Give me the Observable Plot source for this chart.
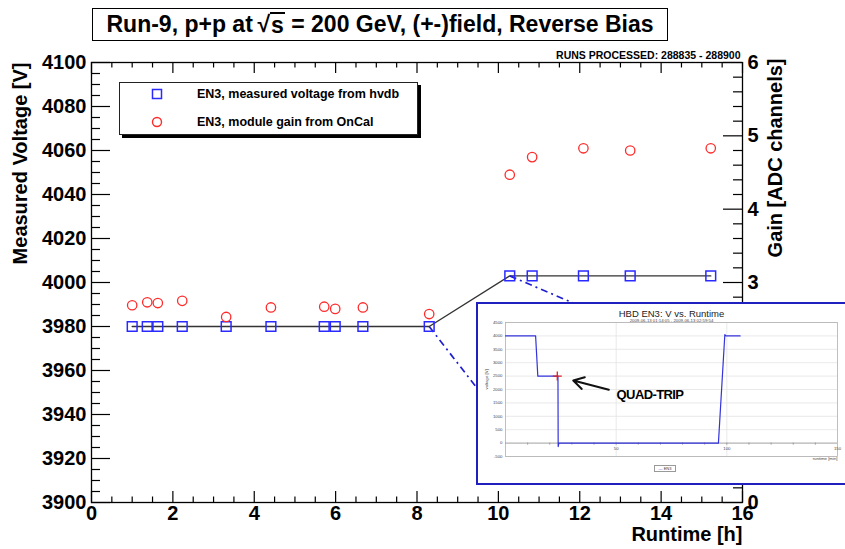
<!DOCTYPE html>
<html><head><meta charset="utf-8">
<script src="https://cdn.jsdelivr.net/npm/d3@7"></script>
<script src="https://cdn.jsdelivr.net/npm/@observablehq/plot@0.6"></script>
<style>
html,body{margin:0;padding:0;background:#fff;}
#wrap{position:relative;width:845px;height:549px;overflow:hidden;font-family:"Liberation Sans",Arial,Helvetica,sans-serif;font-weight:bold;color:#000;}
#title{position:absolute;left:92px;top:8px;width:576px;height:33px;border:1.5px solid #000;box-sizing:border-box;background:#fff;display:flex;align-items:center;justify-content:center;font-size:23px;white-space:nowrap;}
#title .rad{border-top:2px solid #000;line-height:1;padding:0 1px;}
#legend{position:absolute;left:119px;top:82px;width:299px;height:53px;border:1px solid #222;background:#fff;box-shadow:3px 3px 0 #000;box-sizing:border-box;}
#legend .item{position:absolute;left:0;height:16px;display:flex;align-items:center;font-size:12.5px;white-space:nowrap;}
#legend .sym{position:absolute;left:30px;top:0;}
#legend .lab{position:absolute;left:77px;top:0;line-height:16px;}
#inset{position:absolute;left:476px;top:302px;width:380px;height:183px;border:2px solid #2020c0;background:#fff;box-sizing:border-box;font-weight:normal;}
#inlegend{position:absolute;left:176px;top:161px;width:22px;height:7px;border:0.6px solid #999;box-sizing:border-box;font-size:4px;font-weight:normal;color:#333;display:flex;align-items:center;justify-content:center;}
</style></head>
<body><div id="wrap">
</div>
<script>
// ---- main chart data ----
const runtimeH = [1.0, 1.37, 1.63, 2.23, 3.31, 4.41, 5.72, 5.99, 6.67, 8.30, 10.28, 10.83, 12.09, 13.24, 15.22];
const voltageV = [3980, 3980, 3980, 3980, 3980, 3980, 3980, 3980, 3980, 3980, 4003, 4003, 4003, 4003, 4003];
const gainADC  = [2.69, 2.73, 2.72, 2.75, 2.53, 2.66, 2.67, 2.64, 2.66, 2.57, 4.47, 4.71, 4.83, 4.80, 4.83];
const xTickLabels = [0, 2, 4, 6, 8, 10, 12, 14, 16];
const yTickLabels = [3900, 3920, 3940, 3960, 3980, 4000, 4020, 4040, 4060, 4080, 4100];
const gainTickLabels = [0, 1, 2, 3, 4, 5, 6];
// zoom call-out lines (from a data point toward the inset)
const calloutX1 = [8.30, 10.28];
const calloutY1 = [3980, 4003];
const calloutX2 = [9.60, 11.95];
const calloutY2 = [3949, 3989.8];
const titleText = ["Run-9, p+p at", "s", "= 200 GeV, (+-)field, Reverse Bias"];
const runsText = "RUNS PROCESSED: 288835 - 288900";
const legendLabels = ["EN3, measured voltage from hvdb", "EN3, module gain from OnCal"];

// ---- inset (HBD EN3 V vs runtime) data ----
const insetT = [0, 13.6, 14.6, 23.7, 23.8, 24.1, 96.2, 99.1, 99.6, 106];
const insetV = [4000, 4000, 2500, 2500, -130, 0, 0, 4050, 4000, 4000];
const insetTripT = [23.4];
const insetTripV = [2500];
const insetArrowX1 = [46.7], insetArrowY1 = [1990], insetArrowX2 = [30.6], insetArrowY2 = [2336];
const insetYTicks = [-500, 0, 500, 1000, 1500, 2000, 2500, 3000, 3500, 4000, 4500];
const insetXLabels = [50, 100, 150];
const insetXMinor = [10, 20, 30, 40, 50, 60, 70, 80, 90, 100, 110, 120, 130, 140];
const insetTitle = "HBD EN3: V vs. Runtime";
const insetSubtitle = "2009-06-13 01:14:05 - 2009-06-13 02:59:54";
const insetNote = [{t: 50.2, v: 1800, label: "QUAD-TRIP"}];

const wrap = document.getElementById("wrap");
const W = 845, H = 549, mL = 91, mR = 103, mT = 62, mB = 47;
const fw = W - mL - mR, fh = H - mT - mB;
const font = '"Liberation Sans", Arial, Helvetica, sans-serif';
const layerStyle = {position: "absolute", left: "0px", top: "0px", background: "transparent", fontFamily: font, overflow: "visible"};

const volt = runtimeH.map((t, i) => ({t, v: voltageV[i]}));
const gain = runtimeH.map((t, i) => ({t, g: gainADC[i]}));
const callouts = calloutX1.map((x, i) => ({x1: x, y1: calloutY1[i], x2: calloutX2[i], y2: calloutY2[i]}));
const minorX = d3.range(0, 16.001, 0.5).filter(d => d % 2 !== 0);
const minorY = d3.range(3900, 4100.001, 5).filter(d => d % 20 !== 0);
const minorG = d3.range(0, 6.001, 0.2).filter(d => Math.abs(d - Math.round(d)) > 1e-6);

const main = Plot.plot({
  width: W, height: H, marginLeft: mL, marginRight: mR, marginTop: mT, marginBottom: mB,
  x: {domain: [0, 16], axis: null}, y: {domain: [3900, 4100], axis: null},
  style: layerStyle,
  marks: [
    Plot.frame({stroke: "#000", strokeWidth: 1.3}),
    Plot.tickX(xTickLabels, {x: d => d, insetTop: fh - 11, stroke: "#000", strokeWidth: 1.2}),
    Plot.tickX(minorX, {x: d => d, insetTop: fh - 5.5, stroke: "#000", strokeWidth: 1.2}),
    Plot.tickX(xTickLabels, {x: d => d, insetBottom: fh - 11, stroke: "#000", strokeWidth: 1.2}),
    Plot.tickX(minorX, {x: d => d, insetBottom: fh - 5.5, stroke: "#000", strokeWidth: 1.2}),
    Plot.tickY(yTickLabels, {y: d => d, insetRight: fw - 19, stroke: "#000", strokeWidth: 1.2}),
    Plot.tickY(minorY, {y: d => d, insetRight: fw - 9, stroke: "#000", strokeWidth: 1.2}),
    Plot.text(xTickLabels, {x: d => d, text: d => String(d), frameAnchor: "bottom", lineAnchor: "top", dy: 3, fontSize: 20, fontWeight: "bold", fill: "#000"}),
    Plot.text(yTickLabels, {y: d => d, text: d => String(d), frameAnchor: "left", textAnchor: "end", dx: -5, fontSize: 20, fontWeight: "bold", fill: "#000"}),
    Plot.text(["Measured Voltage [V]"], {text: d => d, frameAnchor: "top-left", rotate: -90, textAnchor: "end", dx: -79, fontSize: 20, fontWeight: "bold", fill: "#000"}),
    Plot.text(["Gain [ADC channels]"], {text: d => d, frameAnchor: "top-right", rotate: -90, textAnchor: "end", dx: 25, dy: -4, fontSize: 20, fontWeight: "bold", fill: "#000"}),
    Plot.text(["Runtime [h]"], {text: d => d, frameAnchor: "bottom-right", textAnchor: "end", dy: 38, fontSize: 20, fontWeight: "bold", fill: "#000"}),
    Plot.text([runsText], {text: d => d, frameAnchor: "top-right", textAnchor: "end", dx: -2, dy: -11, fontSize: 10.5, fontWeight: "bold", fill: "#000"}),
    Plot.line(volt, {x: "t", y: "v", stroke: "#333", strokeWidth: 1.4}),
    Plot.link(callouts, {x1: "x1", y1: "y1", x2: "x2", y2: "y2", stroke: "#1f1fd0", strokeWidth: 1.7, strokeDasharray: "7,4,2,4"}),
    Plot.dot(volt, {x: "t", y: "v", symbol: "square", r: 5.5, stroke: "#2a2aff", strokeWidth: 1.5, fill: "none"})
  ]
});
wrap.appendChild(main);

const gainPlot = Plot.plot({
  width: W, height: H, marginLeft: mL, marginRight: mR, marginTop: mT, marginBottom: mB,
  x: {domain: [0, 16], axis: null}, y: {domain: [0, 6], axis: null},
  style: layerStyle,
  marks: [
    Plot.tickY(gainTickLabels, {y: d => d, insetLeft: fw - 19, stroke: "#000", strokeWidth: 1.2}),
    Plot.tickY(minorG, {y: d => d, insetLeft: fw - 9, stroke: "#000", strokeWidth: 1.2}),
    Plot.text(gainTickLabels, {y: d => d, text: d => String(d), frameAnchor: "right", textAnchor: "start", dx: 5, fontSize: 20, fontWeight: "bold", fill: "#000"}),
    Plot.dot(gain, {x: "t", y: "g", r: 4.7, stroke: "#ff2b2b", strokeWidth: 1.3, fill: "none"})
  ]
});
wrap.appendChild(gainPlot);

// ---- inset ----
const inset = document.createElement("div");
inset.id = "inset";
wrap.appendChild(inset);
const insetData = insetT.map((t, i) => ({t, v: insetV[i]}));
const trip = insetTripT.map((t, i) => ({t, v: insetTripV[i]}));
const arrowD = insetArrowX1.map((x, i) => ({x1: x, y1: insetArrowY1[i], x2: insetArrowX2[i], y2: insetArrowY2[i]}));
const insetPlot = Plot.plot({
  width: 370, height: 179, marginLeft: 27, marginRight: 11, marginTop: 18, marginBottom: 27,
  x: {domain: [0, 150], axis: null}, y: {domain: [-500, 4500], axis: null},
  style: {position: "absolute", left: "0px", top: "0px", background: "transparent", fontFamily: font, fontWeight: "normal", overflow: "visible"},
  marks: [
    Plot.ruleY(insetYTicks, {y: d => d, stroke: "#e3e3e3", strokeWidth: 0.8}),
    Plot.ruleX([50, 100], {x: d => d, stroke: "#e3e3e3", strokeWidth: 0.8}),
    Plot.frame({stroke: "#b0b0b0", strokeWidth: 0.8}),
    Plot.ruleY([0], {y: d => d, stroke: "#999", strokeWidth: 0.8}),
    Plot.ruleX(insetXMinor, {x: d => d, y1: 0, y2: -80, stroke: "#888", strokeWidth: 0.7}),
    Plot.text(insetXLabels, {x: d => d, y: 0, text: d => String(d), dy: 6, fontSize: 4.3, fill: "#444"}),
    Plot.text(insetYTicks, {y: d => d, text: d => String(d), frameAnchor: "left", textAnchor: "end", dx: -3, fontSize: 4.3, fill: "#444"}),
    Plot.line(insetData, {x: "t", y: "v", stroke: "#3434dc", strokeWidth: 1.2}),
    Plot.dot(trip, {x: "t", y: "v", symbol: "plus", r: 3, stroke: "#dd2020", strokeWidth: 1.3}),
    Plot.arrow(arrowD, {x1: "x1", y1: "y1", x2: "x2", y2: "y2", stroke: "#111", strokeWidth: 2, headLength: 9}),
    Plot.text(insetNote, {x: "t", y: "v", text: "label", textAnchor: "start", fontSize: 13, fontWeight: "bold", fill: "#000", style: "letter-spacing:-0.6px"}),
    Plot.text([insetTitle], {text: d => d, frameAnchor: "top", dy: -12.5, fontSize: 9.5, fill: "#222"}),
    Plot.text([insetSubtitle], {text: d => d, frameAnchor: "top", dy: -4, fontSize: 4.3, fill: "#444"}),
    Plot.text(["voltage [V]"], {text: d => d, frameAnchor: "left", rotate: -90, dx: -19, fontSize: 4.3, fill: "#444"}),
    Plot.text(["runtime [min]"], {text: d => d, frameAnchor: "bottom-right", textAnchor: "end", dy: 3, fontSize: 4.3, fill: "#444"})
  ]
});
inset.appendChild(insetPlot);
insetPlot.querySelectorAll("text").forEach(t => { if (t.textContent === "QUAD-TRIP") t.setAttribute("letter-spacing", "-0.6"); });
const inleg = document.createElement("div");
inleg.id = "inlegend";
inleg.innerHTML = '<span style="color:#3434dc">&mdash;</span>&nbsp;EN3';
inset.appendChild(inleg);

// ---- title box ----
const title = document.createElement("div");
title.id = "title";
title.innerHTML = titleText[0] + '&thinsp;√<span class="rad">' + titleText[1] + '</span>&nbsp;' + titleText[2];
wrap.appendChild(title);

// ---- legend ----
const legend = document.createElement("div");
legend.id = "legend";
const syms = [
  '<svg width="14" height="16"><rect x="2.5" y="3.5" width="9" height="9" fill="none" stroke="#2a2aff" stroke-width="1.5"/></svg>',
  '<svg width="14" height="16"><circle cx="7" cy="8" r="4.5" fill="none" stroke="#ff2b2b" stroke-width="1.4"/></svg>'
];
legendLabels.forEach((lab, i) => {
  const it = document.createElement("div");
  it.className = "item";
  it.style.top = (i === 0 ? 3 : 31) + "px";
  it.innerHTML = '<span class="sym">' + syms[i] + '</span><span class="lab">' + lab + '</span>';
  legend.appendChild(it);
});
wrap.appendChild(legend);
</script>
</body></html>
